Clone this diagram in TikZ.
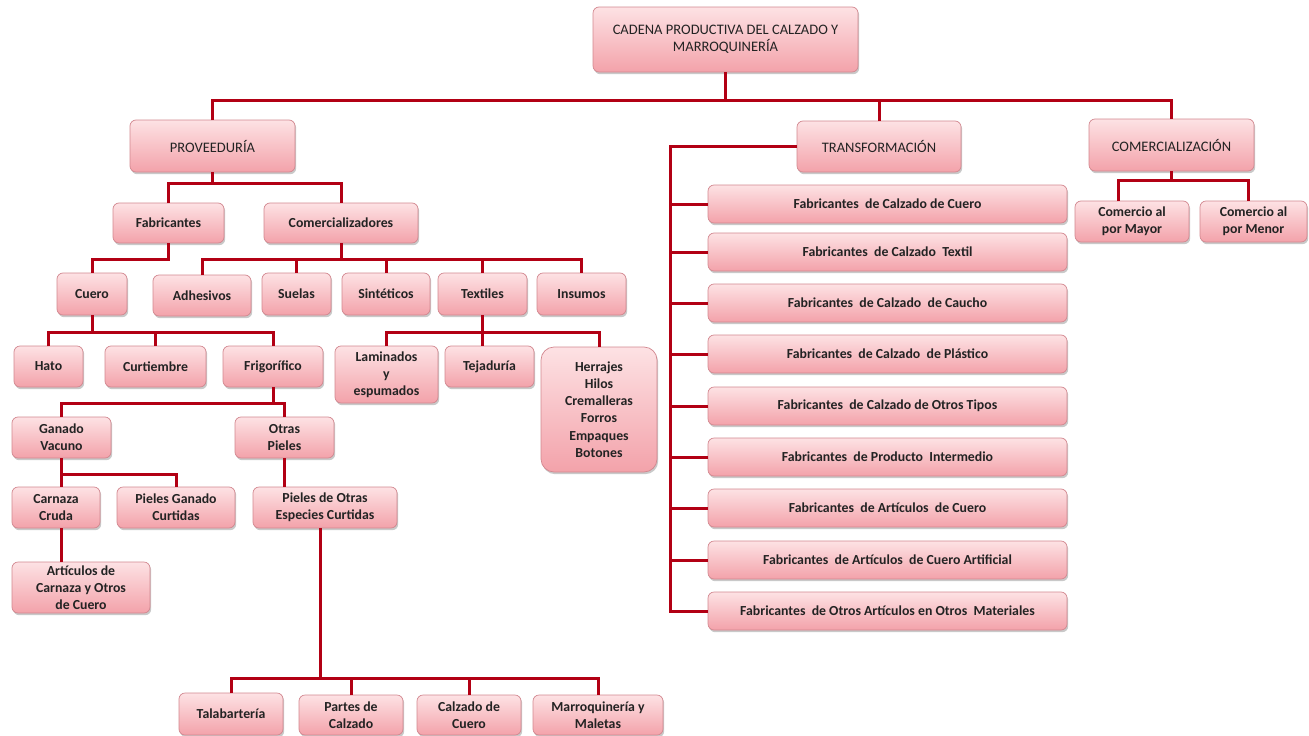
\documentclass[tikz,border=0pt]{standalone}
\usepackage{fontspec}
\setmainfont{Carlito}
\usetikzlibrary{shadows}
\definecolor{boxtop}{RGB}{253,226,228}
\definecolor{boxbot}{RGB}{243,162,170}
\definecolor{boxline}{RGB}{210,135,143}
\definecolor{conncol}{RGB}{178,0,20}
\definecolor{txt}{RGB}{35,35,35}
\tikzset{
  box/.style={draw=boxline, line width=0.7pt, rounded corners=6pt,
    top color=boxtop, bottom color=boxbot, align=center,
    inner sep=0pt, outer sep=0pt, text=txt,
    font=\bfseries\fontsize{13.8}{17.2}\selectfont,
    drop shadow={shadow xshift=1.2pt, shadow yshift=-2.2pt, opacity=0.3, fill=black!70}},
  head/.style={font=\fontsize{14.5}{17}\selectfont},
  conn/.style={draw=conncol, line width=3pt, line join=miter}
}
\newcommand\bx[7][]{%
  \pgfmathsetmacro\bxw{#5-#3}\pgfmathsetmacro\bxh{#6-#4}%
  \pgfmathsetmacro\bxx{(#3+#5)/2}\pgfmathsetmacro\bxy{(#4+#6)/2}%
  \node[box,#1,minimum width=\bxw pt,minimum height=\bxh pt] (#2) at (\bxx,\bxy) {#7};}
\begin{document}
\begin{tikzpicture}[x=1pt,y=-1pt]
\useasboundingbox (0,0) rectangle (1309,736);
% boxes
\bx[head]{cad}{593}{7}{858}{72}{CADENA PRODUCTIVA DEL CALZADO Y\\MARROQUINERÍA}
\bx[head]{prov}{130}{120}{295}{172}{PROVEEDURÍA}
\bx[head]{trans}{797}{121}{961}{172}{TRANSFORMACIÓN}
\bx[head]{comz}{1089}{119}{1254}{171}{COMERCIALIZACIÓN}
\bx{fab}{113}{203}{224}{243}{Fabricantes}
\bx{comer}{264}{203}{418}{243}{Comercializadores}
\bx{cuero}{57}{273}{127}{315}{Cuero}
\bx{adh}{153}{275}{251}{316}{Adhesivos}
\bx{sue}{262}{273}{331}{315}{Suelas}
\bx{sin}{342}{273}{430}{315}{Sintéticos}
\bx{tex}{438}{273}{527}{315}{Textiles}
\bx{ins}{537}{273}{626}{315}{Insumos}
\bx{hato}{14}{346}{83}{387}{Hato}
\bx{curt}{105}{346}{206}{387}{Curtiembre}
\bx{frig}{223}{346}{323}{387}{Frigorífico}
\bx{lam}{335}{346}{438}{403}{Laminados\\y\\espumados}
\bx{tej}{445}{346}{534}{387}{Tejaduría}
\bx[rounded corners=13pt]{her}{541}{347}{657}{472}{Herrajes\\Hilos\\Cremalleras\\Forros\\Empaques\\Botones}
\bx{gv}{12}{417}{111}{458}{Ganado\\Vacuno}
\bx{otp}{235}{417}{334}{458}{Otras\\Pieles}
\bx{car}{12}{487}{100}{528}{Carnaza\\Cruda}
\bx{pgc}{117}{487}{235}{528}{Pieles Ganado\\Curtidas}
\bx{poe}{253}{487}{397}{528}{Pieles de Otras\\Especies Curtidas}
\bx{art}{12}{562}{150}{613}{Artículos de\\Carnaza y Otros\\de Cuero}
\bx{tal}{179}{693}{283}{735}{Talabartería}
\bx{par}{299}{695}{403}{735}{Partes de\\Calzado}
\bx{cdc}{417}{695}{521}{735}{Calzado de\\Cuero}
\bx{mar}{533}{695}{663}{735}{Marroquinería y\\Maletas}
\bx{f1}{708}{185}{1067}{223}{Fabricantes\ \ de Calzado de Cuero}
\bx{f2}{708}{233}{1067}{271}{Fabricantes\ \ de Calzado\ \ Textil}
\bx{f3}{708}{284}{1067}{322}{Fabricantes\ \ de Calzado\ \ de Caucho}
\bx{f4}{708}{335}{1067}{373}{Fabricantes\ \ de Calzado\ \ de Plástico}
\bx{f5}{708}{387}{1067}{425}{Fabricantes\ \ de Calzado de Otros Tipos}
\bx{f6}{708}{438}{1067}{476}{Fabricantes\ \ de Producto\ \ Intermedio}
\bx{f7}{708}{489}{1067}{527}{Fabricantes\ \ de Artículos\ \ de Cuero}
\bx{f8}{708}{541}{1067}{579}{Fabricantes\ \ de Artículos\ \ de Cuero Artificial}
\bx{f9}{708}{592}{1067}{630}{Fabricantes\ \ de Otros Artículos en Otros\ \ Materiales}
\bx{may}{1075}{201}{1189}{242}{Comercio al\\por Mayor}
\bx{men}{1200}{201}{1307}{242}{Comercio al\\por Menor}
% bus coordinates
\coordinate (y0) at (0,100);
\coordinate (yp) at (0,183);
\coordinate (yfc) at (0,259);
\coordinate (ycu) at (0,332);
\coordinate (yfr) at (0,403);
\coordinate (ygv) at (0,474);
\coordinate (ybb) at (0,678);
\coordinate (ycz) at (0,180);
\coordinate (tb) at (670,0);
\coordinate (mayx) at (1118,0);
\coordinate (menx) at (1248,0);
\coordinate (poex) at (320,0);
% connectors
\draw[conn] (cad.south) -- (cad.south |- y0);
\draw[conn] (prov.north) -- (prov.north |- y0) -- (comz.north |- y0) -- (comz.north);
\draw[conn] (trans.north) -- (trans.north |- y0);
\draw[conn] (prov.south) -- (prov.south |- yp);
\draw[conn] (fab.north) -- (fab.north |- yp) -- (comer.north |- yp) -- (comer.north);
\draw[conn] (fab.south) -- (fab.south |- yfc) -| (cuero.north);
\draw[conn] (comer.south) -- (comer.south |- yfc);
\draw[conn] (adh.north) -- (adh.north |- yfc) -- (ins.north |- yfc) -- (ins.north);
\draw[conn] (sue.north) -- (sue.north |- yfc);
\draw[conn] (sin.north) -- (sin.north |- yfc);
\draw[conn] (tex.north) -- (tex.north |- yfc);
\draw[conn] (cuero.south) -- (cuero.south |- ycu);
\draw[conn] (hato.north) -- (hato.north |- ycu) -- (frig.north |- ycu) -- (frig.north);
\draw[conn] (curt.north) -- (curt.north |- ycu);
\draw[conn] (tex.south) -- (tex.south |- tej.north);
\draw[conn] (lam.north) -- (lam.north |- ycu) -- (her.north |- ycu) -- (her.north);
\draw[conn] (frig.south) -- (frig.south |- yfr);
\draw[conn] (gv.north) -- (gv.north |- yfr) -- (otp.north |- yfr) -- (otp.north);
\draw[conn] (gv.south) -- (gv.south |- car.north);
\draw[conn] (gv.south |- ygv) -| (pgc.north);
\draw[conn] (otp.south) -- (otp.south |- poe.north);
\draw[conn] (car.south -| gv.south) -- (art.north -| gv.south);
\draw[conn] (poe.south -| poex) -- (poex |- ybb);
\draw[conn] (tal.north) -- (tal.north |- ybb) -- (mar.north |- ybb) -- (mar.north);
\draw[conn] (par.north) -- (par.north |- ybb);
\draw[conn] (cdc.north) -- (cdc.north |- ybb);
\draw[conn] (trans.west) -- (trans.west -| tb) |- (f9.west);
\foreach \f in {f1,f2,f3,f4,f5,f6,f7,f8}
  \draw[conn] (\f.west -| tb) -- (\f.west);
\draw[conn] (comz.south) -- (comz.south |- ycz);
\draw[conn] (may.north -| mayx) -- (mayx |- ycz) -- (menx |- ycz) -- (men.north -| menx);
\end{tikzpicture}
\end{document}
